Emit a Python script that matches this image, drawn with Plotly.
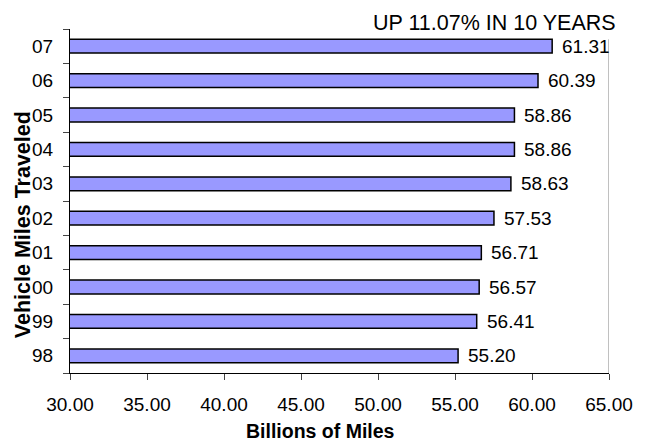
import plotly.graph_objects as go

# data (bottom -> top)
lata = ["98", "99", "00", "01", "02", "03", "04", "05", "06", "07"]
mile = [55.20, 56.41, 56.57, 56.71, 57.53, 58.63, 58.86, 58.86, 60.39, 61.31]
x_ticks = [30, 35, 40, 45, 50, 55, 60, 65]

tytul = "UP 11.07% IN 10 YEARS"
os_x = "Billions of Miles"
os_y = "Vehicle Miles Traveled"

FONT = "Liberation Sans, Arial, sans-serif"

fig = go.Figure()
fig.add_trace(go.Bar(
    x=mile, y=lata, orientation="h",
    marker=dict(color="#9999FF", line=dict(color="black", width=1.5)),
    hoverinfo="skip",
))

# etykiety wartosci z prawej strony slupkow (y = indeks kategorii)
for i, v in enumerate(mile):
    fig.add_annotation(
        x=v, y=i, xref="x", yref="y", text=f"{v:.2f}",
        xanchor="left", yanchor="middle", xshift=8, showarrow=False,
        font=dict(family=FONT, size=19, color="black"),
    )

fig.add_annotation(
    x=1.017, y=1.017, xref="paper", yref="paper", text=tytul,
    xanchor="right", yanchor="middle", showarrow=False, bgcolor="white",
    font=dict(family=FONT, size=21.5, color="black"),
)
fig.add_annotation(
    x=0.465, y=-0.17, xref="paper", yref="paper", text=f"<b>{os_x}</b>",
    xanchor="center", yanchor="middle", showarrow=False,
    font=dict(family=FONT, size=19.5, color="black"),
)
fig.add_annotation(
    x=-0.087, y=0.43, xref="paper", yref="paper", text=f"<b>{os_y}</b>",
    textangle=-90, xanchor="center", yanchor="middle", showarrow=False,
    font=dict(family=FONT, size=21.5, color="black"),
)

# prawa ramka obszaru wykresu
fig.add_shape(type="line", xref="x", yref="paper", x0=65, x1=65, y0=0, y1=0.97,
              line=dict(color="#808080", width=1))

# strona ma 8px marginesu body, stad mniejszy rozmiar i lewy/gorny margines
fig.update_layout(
    width=639, height=433,
    margin=dict(l=62, r=38, t=21, b=68),
    paper_bgcolor="white", plot_bgcolor="white",
    bargap=0.6, showlegend=False,
    font=dict(family=FONT, size=19, color="black"),
)
fig.update_xaxes(
    range=[30, 65], tickvals=x_ticks, tickformat=".2f",
    ticks="outside", ticklen=6, tickcolor="#444", showgrid=False, zeroline=False,
    showline=True, linecolor="black", linewidth=1,
    tickfont=dict(size=19), ticklabelstandoff=8,
)
fig.update_yaxes(
    type="category", categoryorder="array", categoryarray=lata,
    range=[-0.5, len(lata) - 0.5],
    ticks="outside", ticklen=6, tickcolor="#444", tickson="boundaries",
    showgrid=False, showline=True, linecolor="black", linewidth=1,
    tickfont=dict(size=19), ticklabelstandoff=12,
)

fig.write_html("out.html")
